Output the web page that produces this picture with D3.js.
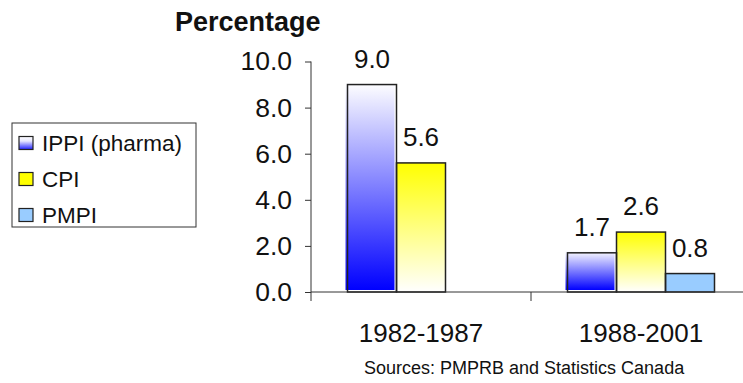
<!DOCTYPE html>
<html>
<head>
<meta charset="utf-8">
<script src="https://cdn.jsdelivr.net/npm/d3@7"></script>
<style>
  body { margin: 0; background: #fff; }
  svg { display: block; font-family: "Liberation Sans", Arial, sans-serif; }
</style>
</head>
<body>
<div id="viz"></div>
<script>
// data
const categories = ["1982-1987", "1988-2001"];
const series = ["IPPI (pharma)", "CPI", "PMPI"];
const values = {
    "IPPI (pharma)": [9.0, 1.7],
    "CPI": [5.6, 2.6],
    "PMPI": [null, 0.8]
};
const yTicks = [0, 2, 4, 6, 8, 10];

const dims = { width: 743, height: 383 };

const svg = d3.select("#viz")
    .append("svg")
    .attr("width", dims.width)
    .attr("height", dims.height);

// gradients
const defs = svg.append("defs");
const gBlue = defs.append("linearGradient").attr("id", "gradBlue")
    .attr("x1", 0).attr("y1", 0).attr("x2", 0).attr("y2", 1);
gBlue.append("stop").attr("offset", "0%").attr("stop-color", "#ffffff");
gBlue.append("stop").attr("offset", "100%").attr("stop-color", "#0000ff");
const gYellow = defs.append("linearGradient").attr("id", "gradYellow")
    .attr("x1", 0).attr("y1", 0).attr("x2", 0).attr("y2", 1);
gYellow.append("stop").attr("offset", "0%").attr("stop-color", "#ffff00");
gYellow.append("stop").attr("offset", "100%").attr("stop-color", "#ffffff");
// the small legend swatch is mostly white with the blue at the bottom
const gBlueKey = defs.append("linearGradient").attr("id", "gradBlueKey")
    .attr("x1", 0).attr("y1", 0).attr("x2", 0).attr("y2", 1);
gBlueKey.append("stop").attr("offset", "0%").attr("stop-color", "#ffffff");
gBlueKey.append("stop").attr("offset", "35%").attr("stop-color", "#e8e8ff");
gBlueKey.append("stop").attr("offset", "100%").attr("stop-color", "#2020ff");

const fills = {
    "IPPI (pharma)": "url(#gradBlue)",
    "CPI": "url(#gradYellow)",
    "PMPI": "#99ccff"
};
const keyFills = {
    "IPPI (pharma)": "url(#gradBlueKey)",
    "CPI": "#ffff00",
    "PMPI": "#99ccff"
};

// scales
const x0 = d3.scaleBand()
    .domain(categories)
    .range([311, 751]);

const x1 = d3.scaleBand()
    .domain(series)
    .range([0, x0.bandwidth()])
    .paddingOuter(0.745);

const y = d3.scaleLinear()
    .domain([0, 10])
    .range([292, 61.5]);

// bars
const rows = [];
categories.forEach((c, i) => {
    series.forEach(s => {
        if (values[s][i] != null) rows.push({ cat: c, series: s, value: values[s][i] });
    });
});

const bars = svg.append("g").attr("class", "bars");

// IPPI fill is drawn slightly offset from its outline, like the original
bars.selectAll("rect.fill")
    .data(rows)
    .enter()
    .append("rect")
    .attr("class", "fill")
    .attr("x", d => x0(d.cat) + x1(d.series) - (d.series === "IPPI (pharma)" ? 2 : 0))
    .attr("y", d => y(d.value) - (d.series === "IPPI (pharma)" ? 2 : 0))
    .attr("width", x1.bandwidth())
    .attr("height", d => y(0) - y(d.value))
    .attr("fill", d => fills[d.series]);

bars.selectAll("rect.outline")
    .data(rows)
    .enter()
    .append("rect")
    .attr("class", "outline")
    .attr("x", d => x0(d.cat) + x1(d.series))
    .attr("y", d => y(d.value))
    .attr("width", x1.bandwidth())
    .attr("height", d => y(0) - y(d.value))
    .attr("fill", "none")
    .attr("stroke", "#222")
    .attr("stroke-width", 1.5);

// value labels
svg.append("g")
    .selectAll("text")
    .data(rows)
    .enter()
    .append("text")
    .attr("x", d => x0(d.cat) + x1(d.series) + x1.bandwidth() / 2)
    .attr("y", d => y(d.value) - 17)
    .attr("text-anchor", "middle")
    .attr("font-size", "26px")
    .attr("fill", "#111")
    .text(d => d3.format(".1f")(d.value));

// y axis
const yAxis = d3.axisLeft(y)
    .tickValues(yTicks)
    .tickFormat(d3.format(".1f"))
    .tickSize(6)
    .tickPadding(13);

const yG = svg.append("g")
    .attr("transform", "translate(311,0)")
    .call(yAxis);
yG.select(".domain").remove();
yG.selectAll(".tick line").attr("stroke", "#333");
yG.selectAll(".tick text")
    .attr("font-size", "26.5px")
    .attr("font-family", "Liberation Sans, Arial, sans-serif")
    .attr("fill", "#111");

svg.append("line")
    .attr("x1", 311).attr("x2", 311)
    .attr("y1", y(10)).attr("y2", 301)
    .attr("stroke", "#333");

// x axis
svg.append("line")
    .attr("x1", 311).attr("x2", dims.width)
    .attr("y1", y(0)).attr("y2", y(0))
    .attr("stroke", "#333");

svg.append("g")
    .selectAll("line")
    .data(categories.slice(1))
    .enter()
    .append("line")
    .attr("x1", d => x0(d)).attr("x2", d => x0(d))
    .attr("y1", y(0)).attr("y2", 301)
    .attr("stroke", "#333");

svg.append("g")
    .selectAll("text")
    .data(categories)
    .enter()
    .append("text")
    .attr("x", d => x0(d) + x0.bandwidth() / 2)
    .attr("y", 342)
    .attr("text-anchor", "middle")
    .attr("font-size", "26px")
    .attr("fill", "#111")
    .text(d => d);

// title
svg.append("text")
    .attr("x", 175)
    .attr("y", 31)
    .attr("font-size", "27px")
    .attr("font-weight", "bold")
    .attr("fill", "#111")
    .text("Percentage");

// source note
svg.append("text")
    .attr("x", 364)
    .attr("y", 374)
    .attr("font-size", "18px")
    .attr("fill", "#111")
    .text("Sources: PMPRB and Statistics Canada");

// legend
const legend = svg.append("g").attr("class", "legend");
legend.append("rect")
    .attr("x", 12).attr("y", 123)
    .attr("width", 184).attr("height", 104)
    .attr("fill", "#fff")
    .attr("stroke", "#333");

const legendY = d3.scalePoint()
    .domain(series)
    .range([143, 215]);

const item = legend.selectAll("g.item")
    .data(series)
    .enter()
    .append("g")
    .attr("class", "item")
    .attr("transform", d => `translate(19,${legendY(d)})`);

item.append("rect")
    .attr("x", 0).attr("y", -6.5)
    .attr("width", 14).attr("height", 13)
    .attr("fill", d => keyFills[d])
    .attr("stroke", "#222")
    .attr("stroke-width", 1.2);

item.append("text")
    .attr("x", 23)
    .attr("y", 8)
    .attr("font-size", "22.5px")
    .attr("fill", "#111")
    .text(d => d);
</script>
</body>
</html>
